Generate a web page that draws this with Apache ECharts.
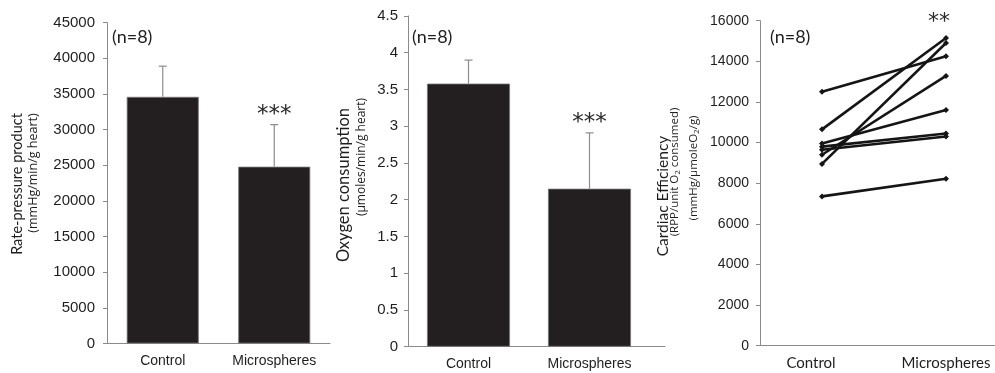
<!DOCTYPE html>
<html>
<head>
<meta charset="utf-8">
<script src="https://cdn.jsdelivr.net/npm/echarts@6/dist/echarts.min.js"></script>
<style>
html,body{margin:0;padding:0;background:#fff;}
#c{width:995px;height:373px;}
</style>
</head>
<body>
<div id="c"></div>
<script>
// ---- data ----
const categories = ['Control', 'Microspheres'];
const rppMean = [34600, 24800];
const rppSD = [4300, 5900];
const rppSig = ['', '***'];
const o2Mean = [3.58, 2.15];
const o2SD = [0.32, 0.76];
const o2Sig = ['', '***'];
const effControl = [12500, 10650, 8950, 9400, 9950, 9800, 9650, 7350];
const effMicro   = [14250, 15150, 14900, 13280, 11600, 10450, 10300, 8220];
const effSig = '**';
const nLabel = '(n=8)';
const rppAxis = {min: 0, max: 45000, interval: 5000};
const o2Axis = {min: 0, max: 4.5, interval: 0.5};
const effAxis = {min: 0, max: 16000, interval: 2000};

// ---- styles ----
const AXIS_COLOR = '#8a8a8a';
const TEXT_COLOR = '#1e1e1e';
const BAR_COLOR = '#231f20';

function errRender(sig) {
  return function (params, api) {
    const x = api.value(0);
    const p0 = api.coord([x, api.value(1)]);
    const p1 = api.coord([x, api.value(2)]);
    const hw = 4;
    const st = {stroke: '#8c8c8c', lineWidth: 1.2};
    const children = [
      {type: 'line', shape: {x1: p0[0], y1: p0[1], x2: p1[0], y2: p1[1]}, style: st},
      {type: 'line', shape: {x1: p1[0] - hw, y1: p1[1], x2: p1[0] + hw, y2: p1[1]}, style: st}
    ];
    const s = sig[params.dataIndex];
    if (s) {
      children.push({type: 'text', x: p1[0], y: p1[1] - 10,
        style: {text: s, align: 'center', verticalAlign: 'middle',
          fontFamily: 'DejaVu Sans', fontSize: 23, fill: '#2a2a2a'}});
    }
    return {type: 'group', children: children};
  };
}

function valueAxis(gridIndex, cfg, fontSize, margin) {
  return {
    type: 'value', gridIndex: gridIndex, min: cfg.min, max: cfg.max, interval: cfg.interval,
    splitLine: {show: false},
    axisLine: {show: true, lineStyle: {color: AXIS_COLOR, width: 1}},
    axisTick: {show: true, length: 4, inside: false, lineStyle: {color: AXIS_COLOR}},
    axisLabel: {fontFamily: 'Liberation Sans', fontSize: fontSize, color: TEXT_COLOR, margin: margin,
      formatter: function (v) { return String(v); }}
  };
}

function catAxis(gridIndex, labelCfg, showLine) {
  return {
    type: 'category', gridIndex: gridIndex, data: categories,
    axisLine: {show: showLine, lineStyle: {color: AXIS_COLOR, width: 1}},
    axisTick: {show: false},
    axisLabel: Object.assign({interval: 0, hideOverlap: false}, labelCfg)
  };
}

const errData = (mean, sd) => mean.map((m, i) => [i, m, m + sd[i]]);

const lineSeries = effControl.map((c, i) => {
  const microItem = {value: effMicro[i]};
  if (effMicro[i] === Math.max.apply(null, effMicro)) {
    microItem.label = {show: true, formatter: effSig, position: 'top', distance: 2, offset: [-7, 0],
      fontFamily: 'DejaVu Sans', fontSize: 22, color: '#2a2a2a'};
  }
  return {
    type: 'line', xAxisIndex: 3, yAxisIndex: 3, data: [c, microItem],
    symbol: 'diamond', symbolSize: 6, showSymbol: true,
    lineStyle: {color: '#151515', width: 2.6},
    itemStyle: {color: '#151515'},
    z: 3
  };
});

const chart = echarts.init(document.getElementById('c'), null, {renderer: 'canvas'});
chart.setOption({
  animation: false,
  backgroundColor: '#ffffff',
  grid: [
    {left: 107, top: 22.7, width: 223, height: 320.8, outerBoundsMode: 'none', containLabel: false},
    {left: 408, top: 16, width: 242, height: 330.7, outerBoundsMode: 'none', containLabel: false},
    {left: 408, top: 16, width: 257, height: 330.7, outerBoundsMode: 'none', containLabel: false},
    {left: 760, top: 20.7, width: 248, height: 325, outerBoundsMode: 'none', containLabel: false}
  ],
  xAxis: [
    catAxis(0, {fontFamily: 'Liberation Sans', fontSize: 14, color: TEXT_COLOR, margin: 11}, true),
    catAxis(1, {fontFamily: 'Liberation Sans', fontSize: 14, color: TEXT_COLOR, margin: 10}, false),
    catAxis(2, {show: false}, true),
    catAxis(3, {fontFamily: 'Lato', fontSize: 15, color: TEXT_COLOR, margin: 10,
      formatter: function (v) { return v === 'Control' ? '{l|' + v + '}' : '{r|' + v + '}'; },
      rich: {l: {fontFamily: 'Lato', fontSize: 15, color: TEXT_COLOR, padding: [0, 22, 0, 0]},
             r: {fontFamily: 'Lato', fontSize: 15, color: TEXT_COLOR}}}, true)
  ],
  yAxis: [
    valueAxis(0, rppAxis, 15, 12),
    valueAxis(1, o2Axis, 15, 10),
    {type: 'value', gridIndex: 2, show: false, min: 0, max: 1},
    valueAxis(3, effAxis, 14, 11)
  ],
  series: [
    {type: 'bar', xAxisIndex: 0, yAxisIndex: 0, data: rppMean, barWidth: 72,
      itemStyle: {color: BAR_COLOR, borderColor: '#777', borderWidth: 0.8}},
    {type: 'custom', xAxisIndex: 0, yAxisIndex: 0, data: errData(rppMean, rppSD),
      renderItem: errRender(rppSig), z: 3},
    {type: 'bar', xAxisIndex: 1, yAxisIndex: 1, data: o2Mean, barWidth: 83,
      itemStyle: {color: BAR_COLOR, borderColor: '#777', borderWidth: 0.8}},
    {type: 'custom', xAxisIndex: 1, yAxisIndex: 1, data: errData(o2Mean, o2SD),
      renderItem: errRender(o2Sig), z: 3}
  ].concat(lineSeries),
  graphic: [
    {type: 'text', x: 112, y: 37, style: {text: nLabel, fontFamily: 'Lato', fontSize: 18, fill: TEXT_COLOR, align: 'left', verticalAlign: 'middle'}},
    {type: 'text', x: 412, y: 37, style: {text: nLabel, fontFamily: 'Lato', fontSize: 18, fill: TEXT_COLOR, align: 'left', verticalAlign: 'middle'}},
    {type: 'text', x: 770, y: 37, style: {text: nLabel, fontFamily: 'Lato', fontSize: 18, fill: TEXT_COLOR, align: 'left', verticalAlign: 'middle'}},

    {type: 'text', x: 17, y: 184, rotation: Math.PI / 2, style: {text: 'Rate-pressure product', fontFamily: 'Lato', fontSize: 14.5, fill: TEXT_COLOR, align: 'center', verticalAlign: 'middle'}},
    {type: 'text', x: 33, y: 173, rotation: Math.PI / 2, style: {text: '(mmHg/min/g heart)', fontFamily: 'Open Sans', fontSize: 12.5, fill: TEXT_COLOR, align: 'center', verticalAlign: 'middle'}},

    {type: 'text', x: 344, y: 185, rotation: Math.PI / 2, style: {text: 'Oxygen consumption', fontFamily: 'Lato', fontSize: 16.5, fill: TEXT_COLOR, align: 'center', verticalAlign: 'middle'}},
    {type: 'text', x: 362, y: 157, rotation: Math.PI / 2, style: {text: '(µmoles/min/g heart)', fontFamily: 'Open Sans', fontSize: 12, fill: TEXT_COLOR, align: 'center', verticalAlign: 'middle'}},

    {type: 'text', x: 663, y: 196, rotation: Math.PI / 2, style: {text: 'Cardiac Efficiency', fontFamily: 'Lato', fontSize: 15.5, fill: TEXT_COLOR, align: 'center', verticalAlign: 'middle'}},
    {type: 'text', x: 675, y: 172, rotation: Math.PI / 2, style: {text: '{n|(RPP/unit O}{s|2}{n| consumed)}', align: 'center', verticalAlign: 'middle',
      rich: {n: {fontFamily: 'Open Sans', fontSize: 11.5, fill: TEXT_COLOR, lineHeight: 14},
             s: {fontFamily: 'Open Sans', fontSize: 8, fill: TEXT_COLOR, lineHeight: 14, verticalAlign: 'bottom', padding: [5, 0, 0, 0]}}}},
    {type: 'text', x: 694, y: 168, rotation: Math.PI / 2, style: {text: '{n|(mmHg/µmoleO}{s|2}{n|/g)}', align: 'center', verticalAlign: 'middle',
      rich: {n: {fontFamily: 'Open Sans', fontSize: 11.5, fill: TEXT_COLOR, lineHeight: 14},
             s: {fontFamily: 'Open Sans', fontSize: 8, fill: TEXT_COLOR, lineHeight: 14, verticalAlign: 'bottom', padding: [5, 0, 0, 0]}}}}
  ]
});
</script>
</body>
</html>
